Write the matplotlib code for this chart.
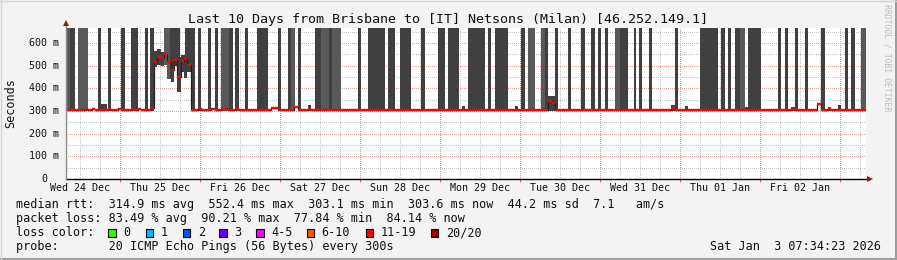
import numpy as np
import matplotlib
matplotlib.use("Agg")
import matplotlib.pyplot as plt
from matplotlib.patches import Polygon, Rectangle
from matplotlib.lines import Line2D
from matplotlib.transforms import blended_transform_factory

W, H = 897, 260

# ---------------- data (time in hours since Wed 24 Dec 00:00) ----------------
t_start, t_end = 7.57, 247.57
day_labels = ["Wed 24 Dec", "Thu 25 Dec", "Fri 26 Dec", "Sat 27 Dec", "Sun 28 Dec",
              "Mon 29 Dec", "Tue 30 Dec", "Wed 31 Dec", "Thu 01 Jan", "Fri 02 Jan"]
y_ticks = [0, 100, 200, 300, 400, 500, 600]
y_tick_labels = ["0", "100 m", "200 m", "300 m", "400 m", "500 m", "600 m"]

# smoke bars reaching the top of the graph (shade 0 = dark, 1 = lighter)
bar_start = [7.57, 9.0, 11.4, 17.4, 20.4, 24.3, 27.3, 31.5, 33.0, 37.2,
             39.0, 43.5, 47.4, 50.4, 52.5, 54.3, 56.7, 58.5, 61.5, 65.1,
             71.4, 74.4, 75.3, 77.4, 82.4, 84.1, 86.6, 87.6, 95.4, 98.4,
             104.4, 108.0, 114.3, 119.4, 122.4, 128.4, 134.4, 136.5, 144.3, 146.4,
             150.3, 151.5, 154.5, 158.4, 162.3, 165.3, 167.4, 169.5, 172.5, 174.0,
             178.2, 179.7, 182.7, 190.5, 198.0, 204.3, 206.4, 208.5, 210.0, 212.4,
             221.4, 223.5, 226.5, 229.5, 234.3, 241.5, 243.3, 246.3]
bar_end = [9.0, 10.5, 14.4, 18.3, 21.3, 25.5, 29.4, 32.4, 34.1, 39.0,
           42.0, 46.5, 48.3, 51.3, 53.4, 56.7, 57.9, 59.7, 62.4, 68.4,
           72.3, 75.3, 76.5, 78.3, 84.1, 86.6, 87.6, 90.2, 96.3, 103.5,
           106.5, 111.3, 115.5, 121.5, 125.7, 133.5, 135.3, 140.4, 145.5, 148.5,
           151.5, 152.4, 155.4, 159.3, 163.5, 166.5, 168.3, 170.4, 174.0, 176.4,
           178.8, 180.6, 183.6, 191.4, 203.4, 205.5, 207.3, 210.0, 211.5, 216.3,
           222.3, 224.4, 227.4, 230.4, 235.5, 242.4, 244.5, 247.57]
bar_shade = [1, 0, 1, 0, 0, 0, 0, 0, 0, 1,
             0, 0, 0, 0, 0, 1, 0, 0, 0, 0,
             0, 0, 1, 0, 0, 1, 0, 1, 0, 0,
             0, 0, 0, 0, 0, 0, 0, 0, 0, 1,
             1, 0, 0, 0, 0, 0, 0, 0, 1, 0,
             0, 0, 0, 0, 0, 0, 0, 0, 1, 0,
             0, 0, 0, 0, 0, 0, 0, 1]

# elevated period on Thu 25 Dec (hourly bins)
elev_start = 34.1
elev_median = [517, 538, 534, 550, 516, 482, 523, 451, 522, 531, 504]
elev_low = [496, 505, 500, 505, 440, 428, 498, 385, 470, 444, 470]
elev_high = [565, 572, 560, 568, 548, 545, 545, 540, 548, 548, 540]

# median rtt baseline and deviations
base_median = 305
med_seg_start = [13.6, 15.6, 20.4, 23.4, 27.4, 29.4, 33.1, 47.4, 51.3, 54.3,
                 58.5, 69.3, 76.1, 80.4, 152.4, 153.4, 189.3, 225.3, 233.1, 236.4]
med_seg_end = [14.4, 16.4, 21.3, 24.2, 28.4, 30.2, 34.1, 48.2, 52.3, 56.6,
               59.6, 71.6, 77.4, 81.3, 153.4, 154.5, 190.4, 226.4, 234.3, 237.3]
med_seg_val = [310, 310, 309, 310, 309, 310, 313, 311, 309, 310,
               309, 312, 318, 310, 344, 334, 312, 310, 332, 310]

# small smoke above the median (not reaching the top)
bump_start = [18.3, 80.4, 126.6, 142.5, 152.1, 189.3, 193.4, 211.5, 225.3, 236.4, 239.4]
bump_end = [20.1, 81.3, 127.5, 143.4, 154.5, 190.4, 194.4, 212.4, 226.4, 237.3, 240.3]
bump_top = [331, 326, 320, 320, 366, 326, 320, 318, 318, 318, 326]

loss_labels = ["0", "1", "2", "3", "4-5", "6-10", "11-19", "20/20"]
loss_colors = ["#26ff00", "#00b8ff", "#0059ff", "#5e00ff", "#ff00ff", "#ff5500", "#ff0000", "#a10000"]

title = "Last 10 Days from Brisbane to [IT] Netsons (Milan) [46.252.149.1]"
legend_lines = [
    "median rtt:  314.9 ms avg  552.4 ms max  303.1 ms min  303.6 ms now  44.2 ms sd  7.1   am/s",
    "packet loss: 83.49 % avg  90.21 % max  77.84 % min  84.14 % now",
    "loss color:",
    "probe:       20 ICMP Echo Pings (56 Bytes) every 300s",
]
stamp = "Sat Jan  3 07:34:23 2026"

# ---------------- figure ----------------
MONO = "DejaVu Sans Mono"
BG = "#f3f3f3"
DARK = "#404040"
LIGHT = "#595959"
y_top = 666

fig = plt.figure(figsize=(W / 100, H / 100), dpi=100)
fig.patch.set_facecolor(BG)


def fx(x):
    return x / W


def fy(y):
    return 1 - y / H


ax = fig.add_axes([fx(65.5), fy(179), 800 / W, 151 / H])
ax.set_facecolor("white")
ax.set_xlim(t_start, t_end)
ax.set_ylim(0, y_top)
for s in ax.spines.values():
    s.set_visible(False)
ax.set_yticks([])

# grid (crisp 1px dotted)
dot = (0, (1.0, 1.4))
gkw = dict(lw=0.72, ls=dot, zorder=0.5, antialiased=False)
for h in np.arange(6, t_end, 6):
    if h < t_start:
        continue
    if h % 24 == 0:
        ax.axvline(h, color="#f08c8c", **gkw)
    else:
        ax.axvline(h, color="#c4c4c4", **gkw)
for v in range(50, y_top, 50):
    if v % 100 == 0:
        ax.axhline(v, color="#e8a0a0", **gkw)
    else:
        ax.axhline(v, color="#c4c4c4", **gkw)


def elev_bin(t):
    i = int(np.floor(t - elev_start + 1e-9))
    if 0 <= i < len(elev_low):
        return i
    return None


# elevated smoke band
for i in range(len(elev_low)):
    a = elev_start + i
    ax.bar(a, elev_high[i] - elev_low[i], width=1.0, bottom=elev_low[i], align="edge",
           color=DARK, lw=0, zorder=2)

# small smoke bumps
for a, b, tp in zip(bump_start, bump_end, bump_top):
    ax.bar(a, tp - 300, width=b - a, bottom=300, align="edge", color=DARK, lw=0, zorder=2)

# full height bars, split on elevated bins
for a, b, sh in zip(bar_start, bar_end, bar_shade):
    col = LIGHT if sh else DARK
    cuts = [a]
    for k in range(len(elev_low) + 1):
        e = elev_start + k
        if a < e < b:
            cuts.append(e)
    cuts.append(b)
    for c0, c1 in zip(cuts[:-1], cuts[1:]):
        i = elev_bin((c0 + c1) / 2)
        bot = elev_low[i] if i is not None else 300
        ax.bar(c0, y_top + 50 - bot, width=c1 - c0, bottom=bot, align="edge",
               color=col, lw=0, zorder=2)

# median series
segs = list(zip(med_seg_start, med_seg_end, med_seg_val))
for i, v in enumerate(elev_median):
    segs.append((elev_start + i, elev_start + i + 1, v))
segs.sort()
edges, vals = [], []
cur = t_start
for a, b, v in segs:
    if a > cur:
        edges.append(cur)
        vals.append(base_median)
    edges.append(a)
    vals.append(v)
    cur = b
if cur < t_end:
    edges.append(cur)
    vals.append(base_median)
edges.append(t_end)
ax.step(edges, vals + [vals[-1]], where="post", color="#202020", lw=0.9, zorder=3)
ax.hlines(vals, edges[:-1], edges[1:], color="#ff0000", lw=1.7, zorder=4)

# axis lines and arrows
ax.plot([0, 1.0045], [0, 0], transform=ax.transAxes, color="black", lw=1, clip_on=False, zorder=5)
ax.plot([0, 0], [0, 1.03], transform=ax.transAxes, color="#8a8a8a", lw=1, clip_on=False, zorder=5)
fig.patches.append(Polygon([(fx(63), fy(26)), (fx(69), fy(26)), (fx(66), fy(20))],
                           closed=True, transform=fig.transFigure, color="#8b1a1a", lw=0))
fig.patches.append(Polygon([(fx(867), fy(176)), (fx(867), fy(182)), (fx(873), fy(179))],
                           closed=True, transform=fig.transFigure, color="#8b1a1a", lw=0))

# x ticks: red ticks at midnights, labels at noon
mid = [h for h in range(24, int(t_end) + 1, 24)]
ax.set_xticks(mid)
ax.set_xticklabels([])
ax.tick_params(axis="x", which="major", direction="out", length=2.5, width=0.8, color="#ff6060")
noons = [12 + 24 * k for k in range(len(day_labels))]
ax.set_xticks(noons, minor=True)
ax.set_xticklabels(day_labels, minor=True, fontsize=7.2, family=MONO, color="#101010")
ax.tick_params(axis="x", which="minor", length=0, pad=3)

# y tick labels
tr = blended_transform_factory(fig.transFigure, ax.transData)
for v, lab in zip(y_ticks, y_tick_labels):
    xr = 59 if " " in lab else 47.5
    fig.text(fx(xr), v, lab, transform=tr, ha="right", va="center", fontsize=7.2,
             family=MONO, color="#101010")

fig.text(fx(10.5), fy(103), "Seconds", rotation=90, ha="center", va="center",
         fontsize=8.5, family=MONO, color="#101010")
fig.text(fx(448), fy(19), title, ha="center", va="center", fontsize=9.6, family=MONO,
         color="#101010")
fig.text(fx(886.5), fy(58), "RRDTOOL / TOBI OETIKER", rotation=270, ha="center",
         va="center", fontsize=5.9, family=MONO, color="#bdbdbd")

# legend
for k, line in enumerate(legend_lines):
    fig.text(fx(15.5), fy(204.5 + 14 * k), line, ha="left", va="center", fontsize=8.5,
             family=MONO, color="#101010")
box_x = [108.3, 145.7, 182.7, 219.3, 256, 306.7, 365.7, 430.7]
for bx, lab, c in zip(box_x, loss_labels, loss_colors):
    fig.patches.append(Rectangle((fx(bx), fy(236.5)), 7.5 / W, 8 / H, transform=fig.transFigure,
                                 facecolor=c, edgecolor="black", lw=0.8))
    fig.text(fx(bx + 15), fy(232.5), lab, ha="left", va="center", fontsize=8.5, family=MONO,
             color="#101010")
fig.text(fx(881), fy(246.5), stamp, ha="right", va="center", fontsize=8.5, family=MONO,
         color="#101010")

# frame
fig.lines.append(Line2D([0, 1], [fy(259), fy(259)], transform=fig.transFigure, color="#9e9e9e", lw=1.5))
fig.lines.append(Line2D([fx(896), fx(896)], [0, 1], transform=fig.transFigure, color="#9e9e9e", lw=1.5))
fig.lines.append(Line2D([0, 1], [fy(0.5), fy(0.5)], transform=fig.transFigure, color="#d6d6d6", lw=1))
fig.lines.append(Line2D([fx(0.5), fx(0.5)], [0, 1], transform=fig.transFigure, color="#d6d6d6", lw=1))

fig.savefig("out.png", dpi=100, facecolor=BG)
